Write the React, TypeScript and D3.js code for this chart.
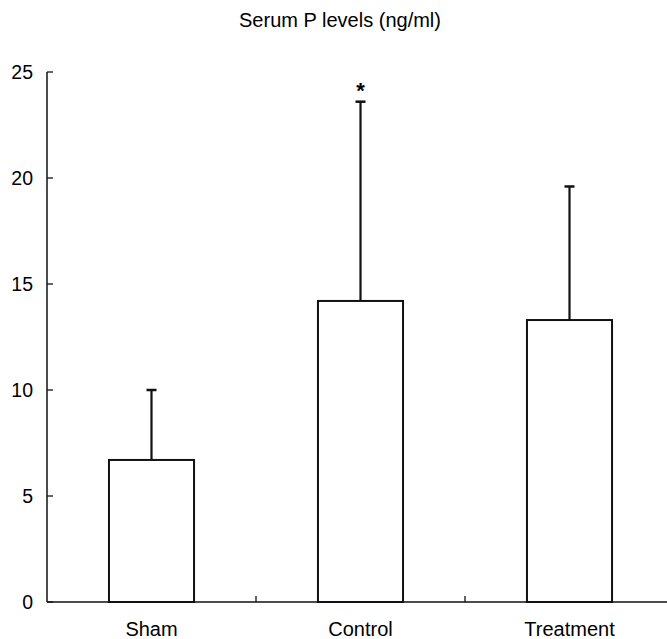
import React, { useEffect, useRef } from 'react';
import * as d3 from 'd3';

// data
const groups = ['Sham', 'Control', 'Treatment'];
const means = [6.7, 14.2, 13.3];
const sds = [3.3, 9.4, 6.3];
const marks = ['', '*', ''];
const yTicks = [0, 5, 10, 15, 20, 25];

const W = 667;
const H = 639;
const FONT = '"Liberation Sans", Arial, sans-serif';

export default function App() {
    const ref = useRef<SVGSVGElement>(null);

    useEffect(() => {
        const svg = d3.select(ref.current);
        svg.selectAll('*').remove();

        const x = d3.scaleBand().domain(groups).range([47, 674]).paddingInner(0.593).paddingOuter(0.2965);
        const y = d3.scaleLinear().domain([0, 25]).range([602, 72]);

        // title
        svg.append('text')
            .attr('x', 340).attr('y', 27)
            .attr('text-anchor', 'middle')
            .style('font-family', FONT).style('font-size', '20px')
            .text('Serum P levels (ng/ml)');

        // y axis
        const yAxis = svg.append('g');
        yAxis.append('line')
            .attr('x1', 47).attr('x2', 47)
            .attr('y1', y(25)).attr('y2', y(0))
            .attr('stroke', '#111').attr('stroke-width', 1.5);
        yAxis.selectAll('line.tick').data(yTicks).enter().append('line')
            .attr('class', 'tick')
            .attr('x1', 47).attr('x2', 53)
            .attr('y1', d => y(d)).attr('y2', d => y(d))
            .attr('stroke', '#111').attr('stroke-width', 1.3);
        yAxis.selectAll('text').data(yTicks).enter().append('text')
            .attr('x', 33).attr('y', d => y(d))
            .attr('dy', '0.35em')
            .attr('text-anchor', 'end')
            .style('font-family', FONT).style('font-size', '19.5px')
            .text(d => d);

        // x axis
        svg.append('line')
            .attr('x1', 47).attr('x2', W)
            .attr('y1', y(0)).attr('y2', y(0))
            .attr('stroke', '#111').attr('stroke-width', 1.5);
        const step = x.step();
        svg.selectAll('line.xtick').data(groups.slice(1)).enter().append('line')
            .attr('class', 'xtick')
            .attr('x1', d => x(d)! - (step - x.bandwidth()) / 2)
            .attr('x2', d => x(d)! - (step - x.bandwidth()) / 2)
            .attr('y1', y(0)).attr('y2', y(0) - 6)
            .attr('stroke', '#111').attr('stroke-width', 1.3);
        svg.selectAll('text.cat').data(groups).enter().append('text')
            .attr('class', 'cat')
            .attr('x', d => x(d)! + x.bandwidth() / 2)
            .attr('y', 636)
            .attr('text-anchor', 'middle')
            .style('font-family', FONT).style('font-size', '20px')
            .text(d => d);

        // error bars (upper only)
        const cx = (i: number) => x(groups[i])! + x.bandwidth() / 2;
        svg.selectAll('line.err').data(means).enter().append('line')
            .attr('class', 'err')
            .attr('x1', (d, i) => cx(i)).attr('x2', (d, i) => cx(i))
            .attr('y1', d => y(d)).attr('y2', (d, i) => y(d + sds[i]))
            .attr('stroke', '#111').attr('stroke-width', 2.2);
        svg.selectAll('line.cap').data(means).enter().append('line')
            .attr('class', 'cap')
            .attr('x1', (d, i) => cx(i) - 5).attr('x2', (d, i) => cx(i) + 5)
            .attr('y1', (d, i) => y(d + sds[i])).attr('y2', (d, i) => y(d + sds[i]))
            .attr('stroke', '#111').attr('stroke-width', 2.5);
        svg.selectAll('text.mark').data(means).enter().append('text')
            .attr('class', 'mark')
            .attr('x', (d, i) => cx(i))
            .attr('y', (d, i) => y(d + sds[i]) - 4)
            .attr('text-anchor', 'middle')
            .style('font-family', FONT).style('font-size', '22px').style('font-weight', 'bold')
            .text((d, i) => marks[i]);

        // bars
        svg.selectAll('rect.bar').data(means).enter().append('rect')
            .attr('class', 'bar')
            .attr('x', (d, i) => x(groups[i])!)
            .attr('y', d => y(d))
            .attr('width', x.bandwidth())
            .attr('height', d => y(0) - y(d))
            .attr('fill', 'white')
            .attr('stroke', '#111').attr('stroke-width', 2);
    }, []);

    return (
        <svg ref={ref} width={W} height={H}
            style={{ position: 'absolute', left: 0, top: 0, background: 'white' }} />
    );
}
